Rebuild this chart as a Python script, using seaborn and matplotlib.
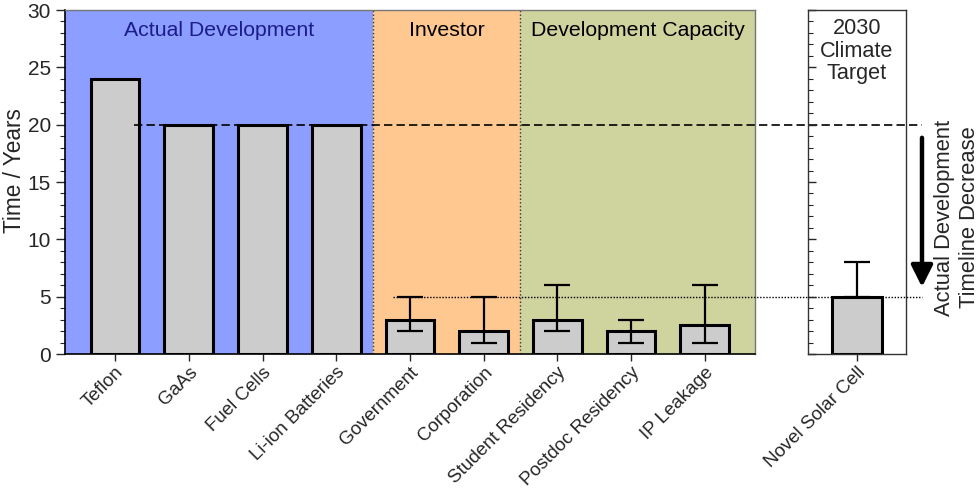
import numpy as np
import matplotlib
matplotlib.use('Agg')
import matplotlib.pyplot as plt
import matplotlib.transforms as mtransforms
from matplotlib.ticker import MultipleLocator
import seaborn as sns

# data
categories = ['Teflon', 'GaAs', 'Fuel Cells', 'Li-ion Batteries', 'Government',
              'Corporation', 'Student Residency', 'Postdoc Residency', 'IP Leakage']
years = [24, 20, 20, 20, 3, 2, 3, 2, 2.5]
err_lower = [np.nan, np.nan, np.nan, np.nan, 2, 1, 2, 1, 1]
err_upper = [np.nan, np.nan, np.nan, np.nan, 5, 5, 6, 3, 6]

target_category = ['Novel Solar Cell']
target_years = [5]
target_upper = [8]

group_names = ['Actual Development', 'Investor', 'Development Capacity']
group_first = [0, 4, 6]
group_last = [3, 5, 8]
group_colors = ['#8c9eff', '#ffc891', '#cfd39e']
group_text_colors = ['#1c1c8a', 'black', 'black']

old_timeline = 20
target_timeline = 5

sns.set_style('ticks')
plt.rcParams['font.family'] = ['Liberation Sans', 'DejaVu Sans']

fig = plt.figure(figsize=(9.8, 4.91), dpi=100)
ax = fig.add_axes([0.0663, 0.279, 0.704, 0.7006])
ax2 = fig.add_axes([0.8245, 0.279, 0.1, 0.7006])
ax2.set_facecolor('none')

# left panel: shaded groups
xmin, xmax = -0.68, len(categories) - 1 + 0.68
for i, name in enumerate(group_names):
    lo = xmin if group_first[i] == 0 else group_first[i] - 0.5
    hi = xmax if group_last[i] == len(categories) - 1 else group_last[i] + 0.5
    ax.axvspan(lo, hi, color=group_colors[i], zorder=0, lw=0)
    if group_first[i] > 0:
        ax.axvline(lo, ls=':', color='#333333', lw=1, zorder=1)
    ax.text((lo + hi) / 2, 28.2, name, ha='center', va='center', fontsize=15.3,
            color=group_text_colors[i])

sns.barplot(x=categories, y=years, ax=ax, color='#cccccc', edgecolor='black',
            linewidth=2.2, width=0.66, errorbar=None, saturation=1, zorder=2)

x = np.arange(len(categories))
y = np.array(years, dtype=float)
lo_ = np.array(err_lower, dtype=float)
hi_ = np.array(err_upper, dtype=float)
ok = np.isfinite(lo_)
ax.errorbar(x[ok], y[ok], yerr=[y[ok] - lo_[ok], hi_[ok] - y[ok]], fmt='none',
            ecolor='black', elinewidth=1.6, capsize=9.4, capthick=1.6, zorder=3)

ax.set_xlim(xmin, xmax)
ax.set_ylim(0, 30)
ax.yaxis.set_major_locator(MultipleLocator(5))
ax.yaxis.set_minor_locator(MultipleLocator(1))
ax.tick_params(axis='y', which='major', direction='out', length=6.5, width=1, labelsize=15)
ax.tick_params(axis='y', which='minor', direction='out', length=3.5, width=0.8)
ax.tick_params(axis='x', direction='out', length=5, width=1, labelsize=13.5, pad=2)
ax.set_ylabel('Time / Years', fontsize=16.3)
ax.yaxis.set_label_coords(-0.057, 0.532)
ax.set_xlabel('')
for lab in ax.get_xticklabels():
    lab.set_rotation(45)
    lab.set_ha('right')
    lab.set_rotation_mode('anchor')
for s in ['top', 'right']:
    ax.spines[s].set_color('#777777')
    ax.spines[s].set_linewidth(1)
for s in ['left', 'bottom']:
    ax.spines[s].set_color('black')
    ax.spines[s].set_linewidth(1.2)

# right panel: target
sns.barplot(x=target_category, y=target_years, ax=ax2, color='#cccccc', edgecolor='black',
            linewidth=2.2, width=0.67, errorbar=None, saturation=1, zorder=2)
ax2.errorbar([0], target_years, yerr=[[0], [target_upper[0] - target_years[0]]], fmt='none',
             ecolor='black', elinewidth=1.6, capsize=9.4, capthick=1.6, zorder=3)
ax2.set_xlim(-0.665, 0.665)
ax2.set_ylim(0, 30)
ax2.yaxis.set_major_locator(MultipleLocator(5))
ax2.yaxis.set_minor_locator(MultipleLocator(1))
ax2.tick_params(axis='y', which='major', direction='in', length=6, width=1, labelleft=False)
ax2.tick_params(axis='y', which='minor', direction='in', length=3.5, width=0.8)
ax2.tick_params(axis='x', direction='out', length=5, width=1, labelsize=13.5, pad=2)
ax2.set_xlabel('')
ax2.set_ylabel('')
for lab in ax2.get_xticklabels():
    lab.set_rotation(45)
    lab.set_ha('right')
    lab.set_rotation_mode('anchor')
for s in ax2.spines.values():
    s.set_color('#333333')
    s.set_linewidth(1)
ax2.text(0, 29.3, '2030\nClimate\nTarget', ha='center', va='top', fontsize=15.6,
         linespacing=1.1)

# reference lines spanning both panels
trans = mtransforms.blended_transform_factory(fig.transFigure, ax.transData)
ax.plot([0.137, 0.941], [old_timeline, old_timeline], transform=trans, color='black',
        ls=(0, (5, 2.5)), lw=1.2, clip_on=False, zorder=4)
ax.plot([0.401, 0.941], [target_timeline, target_timeline], transform=trans, color='black',
        ls=(0, (1, 1.2)), lw=1, clip_on=False, zorder=4)

# arrow and label
ytr = ax2.get_yaxis_transform()
ax2.annotate('', xy=(1.163, 5.6), xytext=(1.163, 19.1), xycoords=ytr, textcoords=ytr,
             arrowprops=dict(arrowstyle='-|>,head_width=0.65,head_length=1.3',
                             color='black', lw=3.2), annotation_clip=False)
ax2.text(1.52, 11.9, 'Actual Development\nTimeline Decrease', transform=ytr,
         rotation=90, ha='center', va='center', fontsize=15.8, linespacing=1.2,
         clip_on=False)

fig.savefig('out.png', dpi=100, facecolor='white')
